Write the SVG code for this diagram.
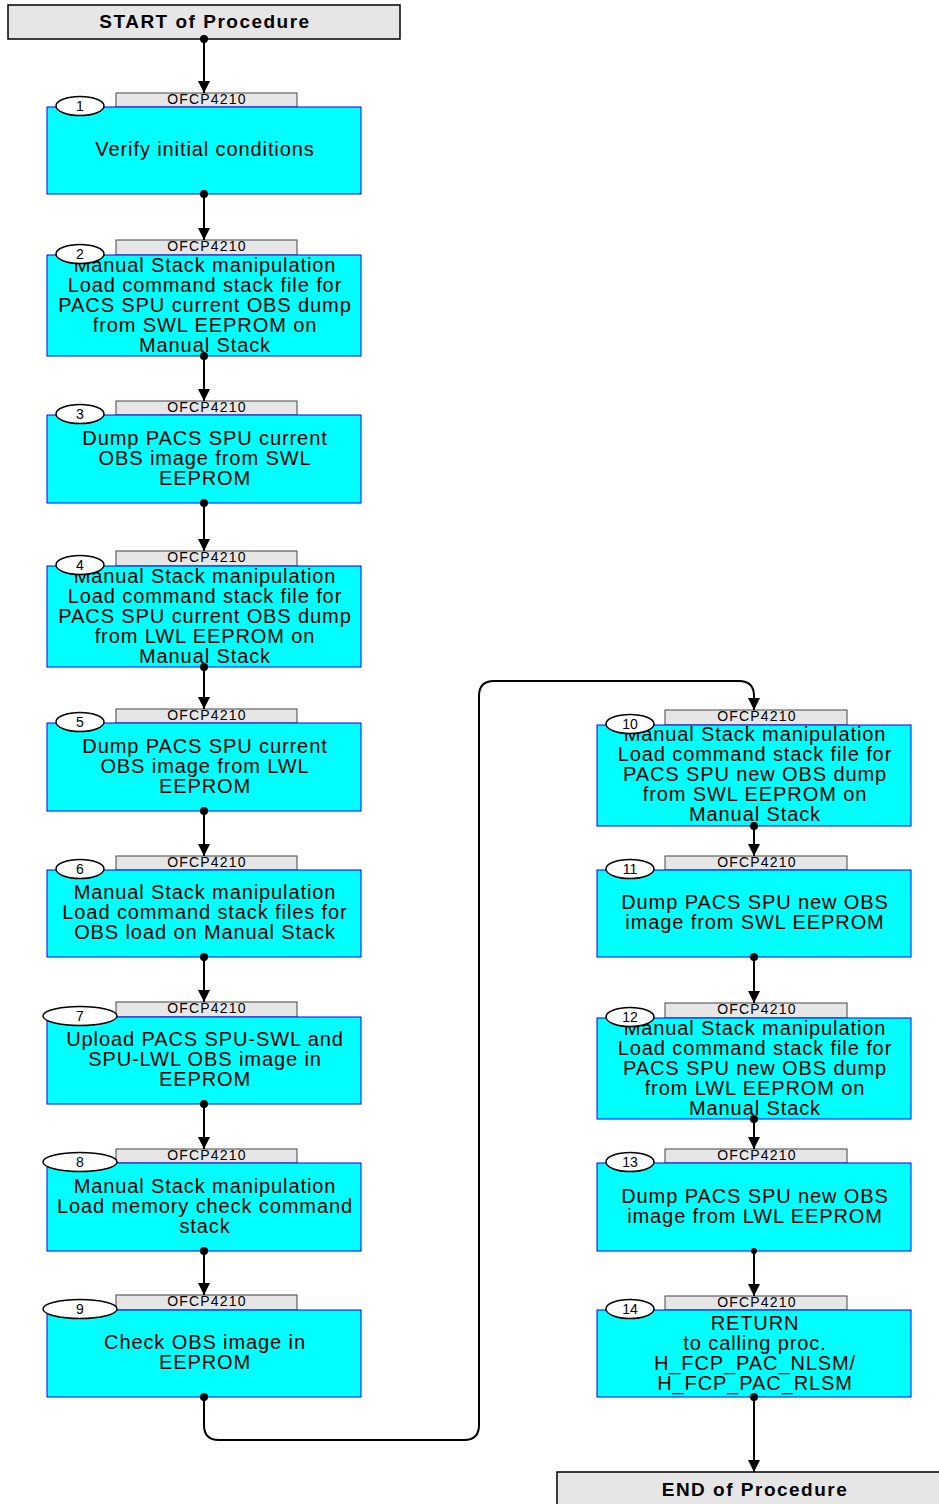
<svg xmlns="http://www.w3.org/2000/svg" width="939" height="1504" viewBox="0 0 939 1504">
<style>
.term{fill:#e6e6e6;stroke:#000;stroke-width:1.5}
.termt{font-family:"Liberation Sans",Arial,sans-serif;font-weight:bold;font-size:19px;letter-spacing:1.5px;text-anchor:middle;fill:#000}
.box{fill:#00ffff;stroke:#0000ff;stroke-width:1}
.tab{fill:#e6e6e6;stroke:#444;stroke-width:1}
.tabt{font-family:"Liberation Sans",Arial,sans-serif;font-size:14px;letter-spacing:1.2px;text-anchor:middle;fill:#000}
.num{fill:#fff;stroke:#000;stroke-width:1.5}
.numt{font-family:"Liberation Sans",Arial,sans-serif;font-size:14px;text-anchor:middle;fill:#000}
.bt{font-family:"Liberation Sans",Arial,sans-serif;font-size:20px;letter-spacing:0.9px;text-anchor:middle;fill:#000}
.conn{fill:none;stroke:#000;stroke-width:2}
.dot{fill:#000}
</style>
<defs>
<marker id="arr" markerUnits="userSpaceOnUse" markerWidth="12" markerHeight="12" viewBox="0 0 12 12" refX="12" refY="6" orient="auto">
<path d="M0,0 L12,6 L0,12 z" fill="#000"/>
</marker>
</defs>

<g id="start">
<rect class="term" x="8" y="5" width="392" height="34"/>
<text class="termt" x="205" y="28">START of Procedure</text>
</g>

<g id="n1">
<rect class="tab" x="116" y="93" width="181" height="14"/>
<text class="tabt" x="207" y="104">OFCP4210</text>
<rect class="box" x="47" y="107" width="314" height="87"/>
<ellipse class="num" cx="80" cy="106" rx="24" ry="9.5"/>
<text class="numt" x="80" y="111">1</text>
<text class="bt" x="205" y="156">Verify initial conditions</text>
</g>

<g id="n2">
<rect class="tab" x="116" y="240" width="181" height="15"/>
<text class="tabt" x="207" y="251">OFCP4210</text>
<rect class="box" x="47" y="255" width="314" height="101"/>
<text class="bt" x="205" y="272">Manual Stack manipulation</text>
<text class="bt" x="205" y="292">Load command stack file for</text>
<text class="bt" x="205" y="312">PACS SPU current OBS dump</text>
<text class="bt" x="205" y="332">from SWL EEPROM on</text>
<text class="bt" x="205" y="352">Manual Stack</text>
<ellipse class="num" cx="80" cy="254" rx="24" ry="9.5"/>
<text class="numt" x="80" y="259">2</text>
</g>

<g id="n3">
<rect class="tab" x="116" y="401" width="181" height="14"/>
<text class="tabt" x="207" y="412">OFCP4210</text>
<rect class="box" x="47" y="415" width="314" height="88"/>
<ellipse class="num" cx="80" cy="414" rx="24" ry="9.5"/>
<text class="numt" x="80" y="419">3</text>
<text class="bt" x="205" y="445">Dump PACS SPU current</text>
<text class="bt" x="205" y="465">OBS image from SWL</text>
<text class="bt" x="205" y="485">EEPROM</text>
</g>

<g id="n4">
<rect class="tab" x="116" y="551" width="181" height="15"/>
<text class="tabt" x="207" y="562">OFCP4210</text>
<rect class="box" x="47" y="566" width="314" height="101"/>
<text class="bt" x="205" y="583">Manual Stack manipulation</text>
<text class="bt" x="205" y="603">Load command stack file for</text>
<text class="bt" x="205" y="623">PACS SPU current OBS dump</text>
<text class="bt" x="205" y="643">from LWL EEPROM on</text>
<text class="bt" x="205" y="663">Manual Stack</text>
<ellipse class="num" cx="80" cy="565" rx="24" ry="9.5"/>
<text class="numt" x="80" y="570">4</text>
</g>

<g id="n5">
<rect class="tab" x="116" y="709" width="181" height="14"/>
<text class="tabt" x="207" y="720">OFCP4210</text>
<rect class="box" x="47" y="723" width="314" height="88"/>
<ellipse class="num" cx="80" cy="722" rx="24" ry="9.5"/>
<text class="numt" x="80" y="727">5</text>
<text class="bt" x="205" y="753">Dump PACS SPU current</text>
<text class="bt" x="205" y="773">OBS image from LWL</text>
<text class="bt" x="205" y="793">EEPROM</text>
</g>

<g id="n6">
<rect class="tab" x="116" y="856" width="181" height="14"/>
<text class="tabt" x="207" y="867">OFCP4210</text>
<rect class="box" x="47" y="870" width="314" height="87"/>
<ellipse class="num" cx="80" cy="869" rx="24" ry="9.5"/>
<text class="numt" x="80" y="874">6</text>
<text class="bt" x="205" y="899">Manual Stack manipulation</text>
<text class="bt" x="205" y="919">Load command stack files for</text>
<text class="bt" x="205" y="939">OBS load on Manual Stack</text>
</g>

<g id="n7">
<rect class="tab" x="116" y="1002" width="181" height="15"/>
<text class="tabt" x="207" y="1013">OFCP4210</text>
<rect class="box" x="47" y="1017" width="314" height="87"/>
<ellipse class="num" cx="80" cy="1016" rx="37" ry="9.5"/>
<text class="numt" x="80" y="1021">7</text>
<text class="bt" x="205" y="1046">Upload PACS SPU-SWL and</text>
<text class="bt" x="205" y="1066">SPU-LWL OBS image in</text>
<text class="bt" x="205" y="1086">EEPROM</text>
</g>

<g id="n8">
<rect class="tab" x="116" y="1149" width="181" height="14"/>
<text class="tabt" x="207" y="1160">OFCP4210</text>
<rect class="box" x="47" y="1163" width="314" height="88"/>
<ellipse class="num" cx="80" cy="1162" rx="37" ry="9.5"/>
<text class="numt" x="80" y="1167">8</text>
<text class="bt" x="205" y="1193">Manual Stack manipulation</text>
<text class="bt" x="205" y="1213">Load memory check command</text>
<text class="bt" x="205" y="1233">stack</text>
</g>

<g id="n9">
<rect class="tab" x="116" y="1295" width="181" height="15"/>
<text class="tabt" x="207" y="1306">OFCP4210</text>
<rect class="box" x="47" y="1310" width="314" height="87"/>
<ellipse class="num" cx="80" cy="1309" rx="37" ry="9.5"/>
<text class="numt" x="80" y="1314">9</text>
<text class="bt" x="205" y="1349">Check OBS image in</text>
<text class="bt" x="205" y="1369">EEPROM</text>
</g>

<g id="n10">
<rect class="tab" x="665" y="710" width="182" height="15"/>
<text class="tabt" x="757" y="721">OFCP4210</text>
<rect class="box" x="597" y="725" width="314" height="101"/>
<text class="bt" x="755" y="741">Manual Stack manipulation</text>
<text class="bt" x="755" y="761">Load command stack file for</text>
<text class="bt" x="755" y="781">PACS SPU new OBS dump</text>
<text class="bt" x="755" y="801">from SWL EEPROM on</text>
<text class="bt" x="755" y="821">Manual Stack</text>
<ellipse class="num" cx="630" cy="724" rx="24" ry="9.5"/>
<text class="numt" x="630" y="729">10</text>
</g>

<g id="n11">
<rect class="tab" x="665" y="856" width="182" height="14"/>
<text class="tabt" x="757" y="867">OFCP4210</text>
<rect class="box" x="597" y="870" width="314" height="87"/>
<ellipse class="num" cx="630" cy="869" rx="24" ry="9.5"/>
<text class="numt" x="630" y="874">11</text>
<text class="bt" x="755" y="909">Dump PACS SPU new OBS</text>
<text class="bt" x="755" y="929">image from SWL EEPROM</text>
</g>

<g id="n12">
<rect class="tab" x="665" y="1003" width="182" height="15"/>
<text class="tabt" x="757" y="1014">OFCP4210</text>
<rect class="box" x="597" y="1018" width="314" height="101"/>
<text class="bt" x="755" y="1035">Manual Stack manipulation</text>
<text class="bt" x="755" y="1055">Load command stack file for</text>
<text class="bt" x="755" y="1075">PACS SPU new OBS dump</text>
<text class="bt" x="755" y="1095">from LWL EEPROM on</text>
<text class="bt" x="755" y="1115">Manual Stack</text>
<ellipse class="num" cx="630" cy="1017" rx="24" ry="9.5"/>
<text class="numt" x="630" y="1022">12</text>
</g>

<g id="n13">
<rect class="tab" x="665" y="1149" width="182" height="14"/>
<text class="tabt" x="757" y="1160">OFCP4210</text>
<rect class="box" x="597" y="1163" width="314" height="88"/>
<ellipse class="num" cx="630" cy="1162" rx="24" ry="9.5"/>
<text class="numt" x="630" y="1167">13</text>
<text class="bt" x="755" y="1203">Dump PACS SPU new OBS</text>
<text class="bt" x="755" y="1223">image from LWL EEPROM</text>
</g>

<g id="n14">
<rect class="tab" x="665" y="1296" width="182" height="14"/>
<text class="tabt" x="757" y="1307">OFCP4210</text>
<rect class="box" x="597" y="1310" width="314" height="87"/>
<ellipse class="num" cx="630" cy="1309" rx="24" ry="9.5"/>
<text class="numt" x="630" y="1314">14</text>
<text class="bt" x="755" y="1330">RETURN</text>
<text class="bt" x="755" y="1350">to calling proc.</text>
<text class="bt" x="755" y="1370">H_FCP_PAC_NLSM/</text>
<text class="bt" x="755" y="1390">H_FCP_PAC_RLSM</text>
</g>

<g id="end">
<rect class="term" x="557" y="1472" width="390" height="40"/>
<text class="termt" x="755" y="1496">END of Procedure</text>
</g>

<g id="connectors">
<path class="conn" d="M204,39 V93" marker-end="url(#arr)"/>
<path class="conn" d="M204,194 V240" marker-end="url(#arr)"/>
<path class="conn" d="M204,356 V401" marker-end="url(#arr)"/>
<path class="conn" d="M204,503 V551" marker-end="url(#arr)"/>
<path class="conn" d="M204,667 V709" marker-end="url(#arr)"/>
<path class="conn" d="M204,811 V856" marker-end="url(#arr)"/>
<path class="conn" d="M204,957 V1002" marker-end="url(#arr)"/>
<path class="conn" d="M204,1104 V1149" marker-end="url(#arr)"/>
<path class="conn" d="M204,1251 V1295" marker-end="url(#arr)"/>
<path class="conn" d="M204,1397 V1425 Q204,1440 219,1440 H464 Q479,1440 479,1425 V696 Q479,681 494,681 H739 Q754,681 754,696 V710" marker-end="url(#arr)"/>
<path class="conn" d="M754,826 V856" marker-end="url(#arr)"/>
<path class="conn" d="M754,957 V1003" marker-end="url(#arr)"/>
<path class="conn" d="M754,1119 V1149" marker-end="url(#arr)"/>
<path class="conn" d="M754,1251 V1296" marker-end="url(#arr)"/>
<path class="conn" d="M754,1397 V1472" marker-end="url(#arr)"/>
<circle class="dot" cx="204" cy="39" r="4"/>
<circle class="dot" cx="204" cy="194" r="4"/>
<circle class="dot" cx="204" cy="356" r="4"/>
<circle class="dot" cx="204" cy="503" r="4"/>
<circle class="dot" cx="204" cy="667" r="4"/>
<circle class="dot" cx="204" cy="811" r="4"/>
<circle class="dot" cx="204" cy="957" r="4"/>
<circle class="dot" cx="204" cy="1104" r="4"/>
<circle class="dot" cx="204" cy="1251" r="4"/>
<circle class="dot" cx="204" cy="1397" r="4"/>
<circle class="dot" cx="754" cy="826" r="4"/>
<circle class="dot" cx="754" cy="957" r="4"/>
<circle class="dot" cx="754" cy="1119" r="4"/>
<circle class="dot" cx="754" cy="1251" r="3"/>
<circle class="dot" cx="754" cy="1397" r="4"/>
</g>
</svg>
